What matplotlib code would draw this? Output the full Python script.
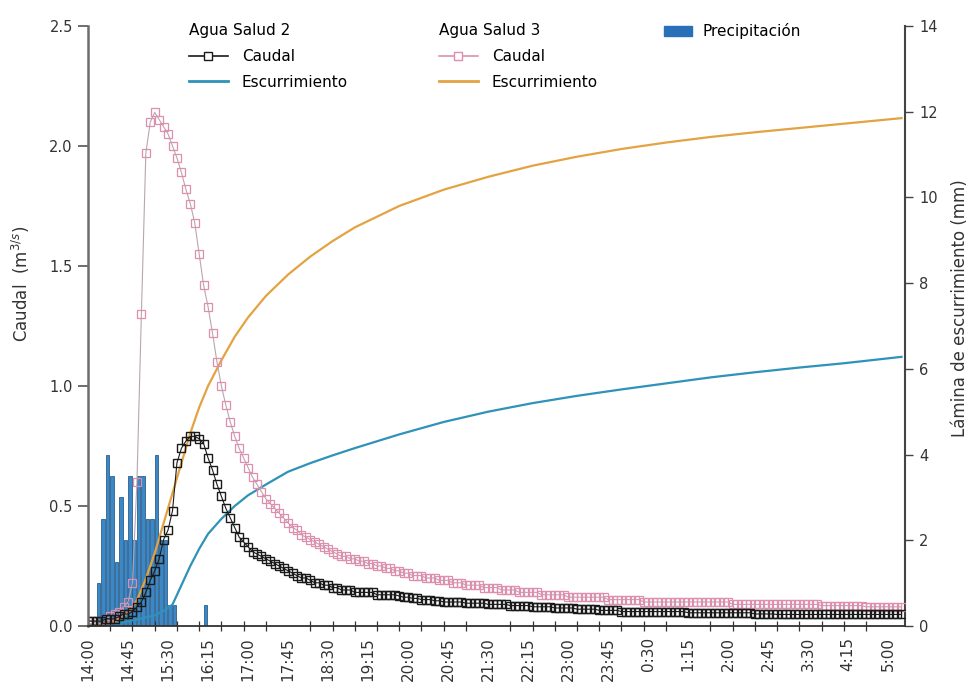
import numpy as np
import matplotlib
matplotlib.use('Agg')
from matplotlib import pyplot as plt
from matplotlib.lines import Line2D
from matplotlib.patches import Patch
from matplotlib.ticker import MultipleLocator

plt.rcParams['font.family'] = ['DejaVu Sans']

# minutos desde las 14:00, un dato cada 5 min
minutos = np.arange(0, 920, 5)

caudal_as2 = [
    0.02, 0.02, 0.02, 0.02, 0.03, 0.03, 0.03, 0.04, 0.05, 0.05,
    0.06, 0.08, 0.10, 0.14, 0.19, 0.23, 0.28, 0.36, 0.40, 0.48,
    0.68, 0.74, 0.77, 0.79, 0.79, 0.78, 0.76, 0.70, 0.65, 0.59,
    0.54, 0.49, 0.45, 0.41, 0.37, 0.35, 0.33, 0.31, 0.30, 0.29,
    0.28, 0.27, 0.26, 0.25, 0.24, 0.23, 0.22, 0.21, 0.20, 0.20,
    0.19, 0.18, 0.18, 0.17, 0.17, 0.16, 0.16, 0.15, 0.15, 0.15,
    0.14, 0.14, 0.14, 0.14, 0.14, 0.13, 0.13, 0.13, 0.13, 0.13,
    0.125, 0.12, 0.12, 0.115, 0.115, 0.11, 0.11, 0.11, 0.105, 0.105,
    0.10, 0.10, 0.10, 0.10, 0.10, 0.095, 0.095, 0.095, 0.095, 0.095,
    0.09, 0.09, 0.09, 0.09, 0.09, 0.085, 0.085, 0.085, 0.085, 0.085,
    0.08, 0.08, 0.08, 0.08, 0.08, 0.075, 0.075, 0.075, 0.075, 0.075,
    0.07, 0.07, 0.07, 0.07, 0.07, 0.065, 0.065, 0.065, 0.065, 0.065,
    0.06, 0.06, 0.06, 0.06, 0.06, 0.06, 0.06, 0.06, 0.06, 0.06,
    0.06, 0.06, 0.06, 0.06, 0.06, 0.055, 0.055, 0.055, 0.055, 0.055,
    0.055, 0.055, 0.055, 0.055, 0.055, 0.055, 0.055, 0.055, 0.055, 0.055,
    0.05, 0.05, 0.05, 0.05, 0.05, 0.048, 0.048, 0.048, 0.048, 0.048,
    0.048, 0.048, 0.048, 0.048, 0.048, 0.048, 0.048, 0.048, 0.048, 0.048,
    0.048, 0.048, 0.048, 0.048, 0.048, 0.048, 0.048, 0.048, 0.048, 0.048,
    0.048, 0.048, 0.048, 0.048,
]

caudal_as3 = [
    0.01, 0.01, 0.02, 0.02, 0.03, 0.04, 0.05, 0.06, 0.08, 0.10,
    0.18, 0.60, 1.30, 1.97, 2.10, 2.14, 2.11, 2.08, 2.05, 2.00,
    1.95, 1.89, 1.82, 1.76, 1.68, 1.55, 1.42, 1.33, 1.22, 1.10,
    1.00, 0.92, 0.85, 0.79, 0.74, 0.70, 0.66, 0.62, 0.59, 0.56,
    0.53, 0.51, 0.49, 0.47, 0.45, 0.43, 0.41, 0.40, 0.38, 0.37,
    0.36, 0.35, 0.34, 0.33, 0.32, 0.31, 0.30, 0.29, 0.29, 0.28,
    0.28, 0.27, 0.27, 0.26, 0.26, 0.25, 0.25, 0.24, 0.24, 0.23,
    0.23, 0.22, 0.22, 0.21, 0.21, 0.21, 0.20, 0.20, 0.20, 0.19,
    0.19, 0.19, 0.18, 0.18, 0.18, 0.17, 0.17, 0.17, 0.17, 0.16,
    0.16, 0.16, 0.16, 0.15, 0.15, 0.15, 0.15, 0.14, 0.14, 0.14,
    0.14, 0.14, 0.13, 0.13, 0.13, 0.13, 0.13, 0.13, 0.12, 0.12,
    0.12, 0.12, 0.12, 0.12, 0.12, 0.12, 0.12, 0.11, 0.11, 0.11,
    0.11, 0.11, 0.11, 0.11, 0.11, 0.10, 0.10, 0.10, 0.10, 0.10,
    0.10, 0.10, 0.10, 0.10, 0.10, 0.10, 0.10, 0.10, 0.10, 0.10,
    0.10, 0.10, 0.10, 0.10, 0.10, 0.09, 0.09, 0.09, 0.09, 0.09,
    0.09, 0.09, 0.09, 0.09, 0.09, 0.09, 0.09, 0.09, 0.09, 0.09,
    0.09, 0.09, 0.09, 0.09, 0.09, 0.085, 0.085, 0.085, 0.085, 0.085,
    0.085, 0.085, 0.085, 0.085, 0.085, 0.08, 0.08, 0.08, 0.08, 0.08,
    0.08, 0.08, 0.08, 0.08,
]

esc_min = [0, 30, 45, 55, 65, 75, 85, 95, 105, 115, 125, 135, 150, 165, 180, 200,
           225, 250, 275, 300, 350, 400, 450, 500, 550, 600, 650, 700, 750, 800, 850, 915]
esc_as2 = [0, 0.05, 0.1, 0.15, 0.2, 0.25, 0.35, 0.5, 0.95, 1.4, 1.8, 2.15, 2.5, 2.8, 3.05, 3.3,
           3.6, 3.8, 3.98, 4.15, 4.47, 4.76, 5.0, 5.2, 5.37, 5.52, 5.66, 5.8, 5.92, 6.03, 6.13, 6.28]
esc_as3 = [0, 0.1, 0.3, 0.6, 1.1, 1.7, 2.4, 3.1, 3.8, 4.5, 5.1, 5.6, 6.2, 6.75, 7.2, 7.7,
           8.2, 8.62, 8.98, 9.3, 9.8, 10.18, 10.48, 10.74, 10.95, 11.13, 11.28, 11.41, 11.52, 11.62, 11.72, 11.85]

# precipitacion en intervalos de 5 min (inicio del intervalo)
prec_min = [10, 15, 20, 25, 30, 35, 40, 45, 50, 55, 60, 65, 70, 75, 80, 85, 90, 95, 130]
prec_mm = [1.0, 2.5, 4.0, 3.5, 1.5, 3.0, 2.0, 3.5, 2.0, 3.5, 3.5, 2.5, 2.5, 4.0, 2.0, 2.0, 0.5, 0.5, 0.5]

tick_min = list(range(0, 901, 45))
tick_lbl = ['14:00', '14:45', '15:30', '16:15', '17:00', '17:45', '18:30', '19:15', '20:00',
            '20:45', '21:30', '22:15', '23:00', '23:45', '0:30', '1:15', '2:00', '2:45',
            '3:30', '4:15', '5:00']

c_as2 = '#1a1a1a'
c_as3 = '#df8fae'
c_esc2 = '#2f92b8'
c_esc3 = '#e3a342'
c_prec = '#3b88c9'

fig = plt.figure(figsize=(9.75, 6.93), dpi=100)
ax = fig.add_axes([0.0903, 0.0967, 0.838, 0.8658])
ax2 = ax.twinx()
ax.set_zorder(ax2.get_zorder() + 1)
ax.patch.set_visible(False)

ax2.bar(prec_min, prec_mm, width=4.0, align='edge', color=c_prec, edgecolor='#2b5f8a', linewidth=0.6)
ax2.plot(esc_min, esc_as2, color=c_esc2, lw=1.6)
ax2.plot(esc_min, esc_as3, color=c_esc3, lw=1.6)

ax.plot(minutos, caudal_as3, color='#b9a5b0', lw=0.8, marker='s', ms=5.5, mfc='none', mec=c_as3, mew=0.9)
ax.plot(minutos, caudal_as2, color=c_as2, lw=0.8, marker='s', ms=5.5, mfc='none', mec=c_as2, mew=1.0)

ax.set_xlim(0, 919)
ax.set_ylim(0, 2.5)
ax2.set_ylim(0, 14)

ax.set_xticks(tick_min)
ax.set_xticklabels(tick_lbl, rotation=90, fontsize=11, color='#333333')
ax.xaxis.set_minor_locator(MultipleLocator(25))
ax.tick_params(axis='x', which='major', length=0, pad=8)
ax.tick_params(axis='x', which='minor', direction='inout', length=7, width=0.9, color='#333333')

ax.set_yticks([0, 0.5, 1.0, 1.5, 2.0, 2.5])
ax.set_yticklabels(['0.0', '0.5', '1.0', '1.5', '2.0', '2.5'])
ax.tick_params(axis='y', direction='out', length=7, width=1.2, colors='#555555', labelsize=10.5, labelcolor='#333333', pad=4)
ax2.set_yticks(range(0, 15, 2))
ax2.tick_params(axis='y', direction='out', length=6, width=1.0, colors='#444444', labelsize=10.5, labelcolor='#333333', pad=4)

ax.spines['top'].set_visible(False)
ax2.spines['top'].set_visible(False)
ax.spines['left'].set_color('#6d6d6d')
ax.spines['left'].set_linewidth(1.8)
ax.spines['bottom'].set_color('#333333')
ax.spines['bottom'].set_linewidth(1.3)
ax2.spines['right'].set_color('#444444')
ax2.spines['right'].set_linewidth(1.5)
ax.spines['right'].set_visible(False)
ax2.spines['left'].set_visible(False)
ax2.spines['bottom'].set_visible(False)

ax.set_ylabel('Caudal  (m$^{3/s}$)', fontsize=12, color='#333333')
ax.yaxis.set_label_coords(-0.068, 0.57)
ax2.set_ylabel('Lámina de escurrimiento (mm)', fontsize=12, color='#333333')
ax2.yaxis.set_label_coords(1.056, 0.53)

h_c2 = Line2D([], [], color=c_as2, lw=1.2, marker='s', ms=6, mfc='white', mec=c_as2)
h_e2 = Line2D([], [], color=c_esc2, lw=2)
h_c3 = Line2D([], [], color=c_as3, lw=1.2, marker='s', ms=6, mfc='white', mec=c_as3)
h_e3 = Line2D([], [], color=c_esc3, lw=2)
h_p = Patch(facecolor='#2a70b8', edgecolor='#2a70b8')

kw = dict(loc='upper left', frameon=False, fontsize=11, title_fontsize=11, alignment='left',
          handlelength=2.6, handletextpad=0.9, labelspacing=0.7, borderpad=0.3)
leg1 = ax.legend([h_c2, h_e2], ['Caudal', 'Escurrimiento'], title='Agua Salud 2',
                 bbox_to_anchor=(0.108, 1.025), **kw)
ax.add_artist(leg1)
leg2 = ax.legend([h_c3, h_e3], ['Caudal', 'Escurrimiento'], title='Agua Salud 3',
                 bbox_to_anchor=(0.414, 1.025), **kw)
ax.add_artist(leg2)
leg3 = ax.legend([h_p], ['Precipitación'], bbox_to_anchor=(0.69, 1.025),
                 loc='upper left', frameon=False, fontsize=11, handlelength=1.8,
                 handleheight=0.6, handletextpad=0.7, borderpad=0.3)

plt.savefig('out.png', dpi=100)
